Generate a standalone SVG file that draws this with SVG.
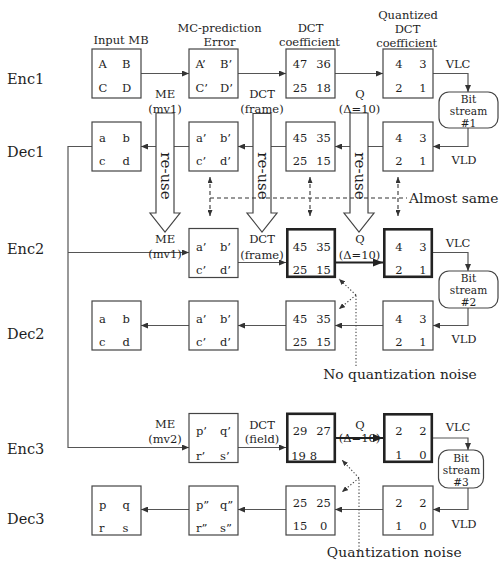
<svg xmlns="http://www.w3.org/2000/svg" width="499" height="564" viewBox="0 0 499 564">
<defs>
<style>
.t{font-family:"DejaVu Serif","Liberation Serif",serif;fill:#1e1e1e}
.row{font-size:14.5px}
.h{font-size:11.5px;text-anchor:middle}
.bt{font-size:10.6px;text-anchor:middle}
.c{font-size:11.5px}
.m{text-anchor:middle}
.note{font-size:13.8px}
.box{fill:#fff;stroke:#444;stroke-width:1.2}
.thick{fill:#fff;stroke:#222;stroke-width:2.6}
.ln{fill:none;stroke:#555;stroke-width:1.2}
.tk{fill:none;stroke:#222;stroke-width:2}
.dash{fill:none;stroke:#333;stroke-width:1.1;stroke-dasharray:4 3}
.dot{fill:none;stroke:#444;stroke-width:1.1;stroke-dasharray:1.3 2}
.reuse{fill:#fff;stroke:#444;stroke-width:1.2}
.bs{fill:#fff;stroke:#444;stroke-width:1.2}
</style>
<marker id="ah" markerUnits="userSpaceOnUse" markerWidth="7" markerHeight="6" refX="7" refY="3" orient="auto"><path d="M0,0 L7,3 L0,6 z" fill="#333"/></marker>
<marker id="ahb" markerUnits="userSpaceOnUse" markerWidth="10" markerHeight="8" refX="10" refY="4" orient="auto"><path d="M0,0 L10,4 L0,8 z" fill="#222"/></marker>
<marker id="ahs" markerUnits="userSpaceOnUse" markerWidth="6" markerHeight="5" refX="6" refY="2.5" orient="auto-start-reverse"><path d="M0,0 L6,2.5 L0,5 z" fill="#333"/></marker>
</defs>
<rect width="499" height="564" fill="#fff"/>

<!-- row labels -->
<g id="row-labels" class="t row">
<text x="7" y="84">Enc1</text>
<text x="7" y="156.5">Dec1</text>
<text x="7" y="254">Enc2</text>
<text x="7" y="339">Dec2</text>
<text x="7" y="454">Enc3</text>
<text x="7" y="524">Dec3</text>
</g>

<!-- column headings -->
<g id="headings" class="t h">
<text x="121" y="44">Input MB</text>
<text x="219.5" y="31.5">MC-prediction</text>
<text x="219.5" y="45.5">Error</text>
<text x="310.5" y="32">DCT</text>
<text x="309.5" y="45.5">coefficient</text>
<text x="408" y="19">Quantized</text>
<text x="407.5" y="32.5">DCT</text>
<text x="406.7" y="46.5">coefficient</text>
</g>

<!-- connectors -->
<g id="connectors">
<!-- Enc1 -->
<path class="ln" d="M141,73.5 H189" marker-end="url(#ah)"/>
<path class="ln" d="M238,73.5 H286" marker-end="url(#ah)"/>
<path class="ln" d="M335,73.5 H383" marker-end="url(#ah)"/>
<path class="ln" d="M433,73.5 H468 V92" marker-end="url(#ah)"/>
<!-- Dec1 -->
<path class="ln" d="M468,128 V146.5 H433" marker-end="url(#ah)"/>
<path class="ln" d="M383,146.5 H335" marker-end="url(#ah)"/>
<path class="ln" d="M286,146.5 H238" marker-end="url(#ah)"/>
<path class="ln" d="M189,146.5 H141" marker-end="url(#ah)"/>
<!-- bus -->
<path class="ln" d="M92,146.5 H68 V447.5 H189" marker-end="url(#ah)"/>
<path class="ln" d="M68,252.5 H189" marker-end="url(#ah)"/>
<!-- Enc2 -->
<path class="ln" d="M238,262.5 H286" marker-end="url(#ah)"/>
<path class="tk" d="M336,262.5 H383" marker-end="url(#ahb)"/>
<path class="ln" d="M433,252.5 H468 V271" marker-end="url(#ah)"/>
<!-- Dec2 -->
<path class="ln" d="M468,308 V325.5 H433" marker-end="url(#ah)"/>
<path class="ln" d="M383,325.5 H335" marker-end="url(#ah)"/>
<path class="ln" d="M286,325.5 H238" marker-end="url(#ah)"/>
<path class="ln" d="M189,325.5 H141" marker-end="url(#ah)"/>
<!-- Enc3 -->
<path class="ln" d="M238,447.5 H286" marker-end="url(#ah)"/>
<path class="tk" d="M336,438 H383" marker-end="url(#ahb)"/>
<path class="ln" d="M433,438 H468 V450" marker-end="url(#ah)"/>
<!-- Dec3 -->
<path class="ln" d="M468,488 V509.5 H433" marker-end="url(#ah)"/>
<path class="ln" d="M383,509.5 H335" marker-end="url(#ah)"/>
<path class="ln" d="M286,509.5 H238" marker-end="url(#ah)"/>
<path class="ln" d="M189,509.5 H141" marker-end="url(#ah)"/>
</g>

<!-- re-use arrows -->
<g id="reuse-me">
<path class="reuse" d="M156,113 H174 V213 H180 L165,232 L150,213 H156 Z"/>
<text class="t" font-size="15" transform="translate(161,176) rotate(90)" text-anchor="middle">re-use</text>
</g>
<g id="reuse-dct">
<path class="reuse" d="M253,113.5 H271 V213 H277 L262,232 L247,213 H253 Z"/>
<text class="t" font-size="15" transform="translate(258,176) rotate(90)" text-anchor="middle">re-use</text>
</g>
<g id="reuse-q">
<path class="reuse" d="M350,113 H368 V213 H374 L359,232 L344,213 H350 Z"/>
<text class="t" font-size="15" transform="translate(355,176) rotate(90)" text-anchor="middle">re-use</text>
</g>

<!-- operation labels -->
<g id="op-labels" class="t h">
<text x="165" y="98">ME</text>
<text x="165" y="112.5">(mv1)</text>
<text x="262" y="97.5">DCT</text>
<text x="262" y="112.5">(frame)</text>
<text x="360" y="98">Q</text>
<text x="359.5" y="112.5">(Δ=10)</text>
<text x="165" y="243">ME</text>
<text x="165" y="257.5">(mv1)</text>
<text x="262" y="243.3">DCT</text>
<text x="262" y="259">(frame)</text>
<text x="360" y="243">Q</text>
<text x="359.5" y="259">(Δ=10)</text>
<text x="165" y="428">ME</text>
<text x="165" y="442.5">(mv2)</text>
<text x="262" y="429">DCT</text>
<text x="262" y="442.5">(field)</text>
<text x="360" y="428.5">Q</text>
<text x="359.5" y="442">(Δ=10)</text>
<text x="458" y="68">VLC</text>
<text x="464" y="164.3">VLD</text>
<text x="458" y="246.7">VLC</text>
<text x="464" y="343.3">VLD</text>
<text x="458" y="430.7">VLC</text>
<text x="464" y="528.3">VLD</text>
</g>

<!-- Almost same -->
<g id="almost-same">
<path class="dash" d="M210,198 H407"/>
<path class="dash" d="M210,177 V216" marker-start="url(#ahs)" marker-end="url(#ahs)"/>
<path class="dash" d="M310,177 V216" marker-start="url(#ahs)" marker-end="url(#ahs)"/>
<path class="dash" d="M398,177 V216" marker-start="url(#ahs)" marker-end="url(#ahs)"/>
<text class="t note" x="409" y="203.3">Almost same</text>
</g>

<!-- noise notes -->
<g id="no-q-noise">
<path class="dot" d="M356,366 V295"/>
<path class="dot" d="M356,295 L339,279" marker-end="url(#ahs)"/>
<path class="dot" d="M356,295 L339,309" marker-end="url(#ahs)"/>
<text class="t note" x="323.3" y="379.3">No quantization noise</text>
</g>
<g id="q-noise">
<path class="dot" d="M359,550 V478"/>
<path class="dot" d="M359,478 L342,460" marker-end="url(#ahs)"/>
<path class="dot" d="M359,478 L342,492" marker-end="url(#ahs)"/>
<text class="t note" x="326.7" y="556.7" textLength="135">Quantization noise</text>
</g>

<!-- Enc1 nodes -->
<g id="enc1-input"><rect class="box" x="92" y="49" width="49" height="49"/>
<text class="t c" x="98.5" y="68">A</text><text class="t c" x="122" y="68">B</text>
<text class="t c" x="98.5" y="92">C</text><text class="t c" x="122" y="92">D</text></g>
<g id="enc1-mc"><rect class="box" x="189" y="49" width="49" height="49"/>
<text class="t c" x="195.5" y="68">A’</text><text class="t c" x="220" y="68">B’</text>
<text class="t c" x="195.5" y="92">C’</text><text class="t c" x="220" y="92">D’</text></g>
<g id="enc1-dct"><rect class="box" x="286" y="49" width="49" height="49"/>
<text class="t c m" x="300" y="68">47</text><text class="t c m" x="323.5" y="68">36</text>
<text class="t c m" x="300" y="92">25</text><text class="t c m" x="323.5" y="92">18</text></g>
<g id="enc1-q"><rect class="box" x="383" y="49" width="50" height="49"/>
<text class="t c m" x="399" y="68">4</text><text class="t c m" x="423" y="68">3</text>
<text class="t c m" x="399" y="92">2</text><text class="t c m" x="423" y="92">1</text></g>
<g id="bs1"><rect class="bs" x="439" y="92" width="59" height="36" rx="10"/>
<text class="t bt" x="468.5" y="102.6">Bit</text><text class="t bt" x="468.5" y="114.8">stream</text><text class="t bt" x="468.5" y="127">#1</text></g>

<!-- Dec1 nodes -->
<g id="dec1-out"><rect class="box" x="92" y="122" width="49" height="49"/>
<text class="t c" x="99" y="141.7">a</text><text class="t c" x="122.5" y="141.7">b</text>
<text class="t c" x="99" y="165">c</text><text class="t c" x="122.5" y="165">d</text></g>
<g id="dec1-mc"><rect class="box" x="189" y="122" width="49" height="49"/>
<text class="t c" x="196" y="141.7">a’</text><text class="t c" x="220" y="141.7">b’</text>
<text class="t c" x="196" y="165">c’</text><text class="t c" x="220" y="165">d’</text></g>
<g id="dec1-dct"><rect class="box" x="286" y="122" width="49" height="49"/>
<text class="t c m" x="300" y="141.7">45</text><text class="t c m" x="323.5" y="141.7">35</text>
<text class="t c m" x="300" y="165">25</text><text class="t c m" x="323.5" y="165">15</text></g>
<g id="dec1-q"><rect class="box" x="383" y="122" width="50" height="49"/>
<text class="t c m" x="399" y="141.7">4</text><text class="t c m" x="423" y="141.7">3</text>
<text class="t c m" x="399" y="165">2</text><text class="t c m" x="423" y="165">1</text></g>

<!-- Enc2 nodes -->
<g id="enc2-mc"><rect class="box" x="189" y="228.5" width="49" height="49"/>
<text class="t c" x="196" y="250.5">a’</text><text class="t c" x="220" y="250.5">b’</text>
<text class="t c" x="196" y="273.5">c’</text><text class="t c" x="220" y="273.5">d’</text></g>
<g id="enc2-dct"><rect class="thick" x="287.3" y="229.3" width="47.5" height="47.5"/>
<text class="t c m" x="300" y="250.7">45</text><text class="t c m" x="323.5" y="250.7">35</text>
<text class="t c m" x="300" y="274">25</text><text class="t c m" x="323.5" y="274">15</text></g>
<g id="enc2-q"><rect class="thick" x="384.3" y="229.3" width="47.5" height="47.5"/>
<text class="t c m" x="399" y="250.7">4</text><text class="t c m" x="423" y="250.7">3</text>
<text class="t c m" x="399" y="274">2</text><text class="t c m" x="423" y="274">1</text></g>
<g id="bs2"><rect class="bs" x="439" y="271" width="59" height="37" rx="10"/>
<text class="t bt" x="468.5" y="282">Bit</text><text class="t bt" x="468.5" y="294.2">stream</text><text class="t bt" x="468.5" y="306.4">#2</text></g>

<!-- Dec2 nodes -->
<g id="dec2-out"><rect class="box" x="92" y="301" width="49" height="49"/>
<text class="t c" x="99" y="322.7">a</text><text class="t c" x="122.5" y="322.7">b</text>
<text class="t c" x="99" y="346.3">c</text><text class="t c" x="122.5" y="346.3">d</text></g>
<g id="dec2-mc"><rect class="box" x="189" y="301" width="49" height="49"/>
<text class="t c" x="196" y="322.7">a’</text><text class="t c" x="220" y="322.7">b’</text>
<text class="t c" x="196" y="346.3">c’</text><text class="t c" x="220" y="346.3">d’</text></g>
<g id="dec2-dct"><rect class="box" x="286" y="301" width="49" height="49"/>
<text class="t c m" x="300" y="322.7">45</text><text class="t c m" x="323.5" y="322.7">35</text>
<text class="t c m" x="300" y="346">25</text><text class="t c m" x="323.5" y="346">15</text></g>
<g id="dec2-q"><rect class="box" x="383" y="301" width="50" height="49"/>
<text class="t c m" x="399" y="322.7">4</text><text class="t c m" x="423" y="322.7">3</text>
<text class="t c m" x="399" y="346">2</text><text class="t c m" x="423" y="346">1</text></g>

<!-- Enc3 nodes -->
<g id="enc3-mc"><rect class="box" x="189" y="413.5" width="49" height="49"/>
<text class="t c" x="196" y="435">p’</text><text class="t c" x="220" y="435">q’</text>
<text class="t c" x="196" y="459.5">r’</text><text class="t c" x="220" y="459.5">s’</text></g>
<g id="enc3-dct"><rect class="thick" x="287.3" y="413.8" width="47.5" height="48"/>
<text class="t c m" x="300" y="435">29</text><text class="t c m" x="323.5" y="435">27</text>
<text class="t c m" x="298.5" y="460">19</text><text class="t c m" x="313.3" y="460">8</text></g>
<g id="enc3-q"><rect class="thick" x="384.3" y="414.3" width="47.5" height="47.5"/>
<text class="t c m" x="399" y="435">2</text><text class="t c m" x="423" y="435">2</text>
<text class="t c m" x="399" y="458.5">1</text><text class="t c m" x="423" y="458.5">0</text></g>
<g id="bs3"><rect class="bs" x="438.5" y="450" width="45" height="38" rx="10"/>
<text class="t bt" x="461" y="461.5">Bit</text><text class="t bt" x="461.5" y="473.7">stream</text><text class="t bt" x="461" y="485.9">#3</text></g>

<!-- Dec3 nodes -->
<g id="dec3-out"><rect class="box" x="92" y="486" width="49" height="49"/>
<text class="t c" x="99" y="508.5">p</text><text class="t c" x="122.5" y="508.5">q</text>
<text class="t c" x="99" y="532">r</text><text class="t c" x="122.5" y="532">s</text></g>
<g id="dec3-mc"><rect class="box" x="189" y="486" width="49" height="49"/>
<text class="t c" x="196" y="508.5">p”</text><text class="t c" x="220" y="508.5">q”</text>
<text class="t c" x="196" y="532">r”</text><text class="t c" x="220" y="532">s”</text></g>
<g id="dec3-dct"><rect class="box" x="286" y="486" width="49" height="49"/>
<text class="t c m" x="300" y="506.7">25</text><text class="t c m" x="323.5" y="506.7">25</text>
<text class="t c m" x="300" y="530">15</text><text class="t c m" x="323.7" y="530">0</text></g>
<g id="dec3-q"><rect class="box" x="383" y="486" width="50" height="49"/>
<text class="t c m" x="399" y="506.7">2</text><text class="t c m" x="423" y="506.7">2</text>
<text class="t c m" x="399" y="530">1</text><text class="t c m" x="423" y="530">0</text></g>
</svg>
